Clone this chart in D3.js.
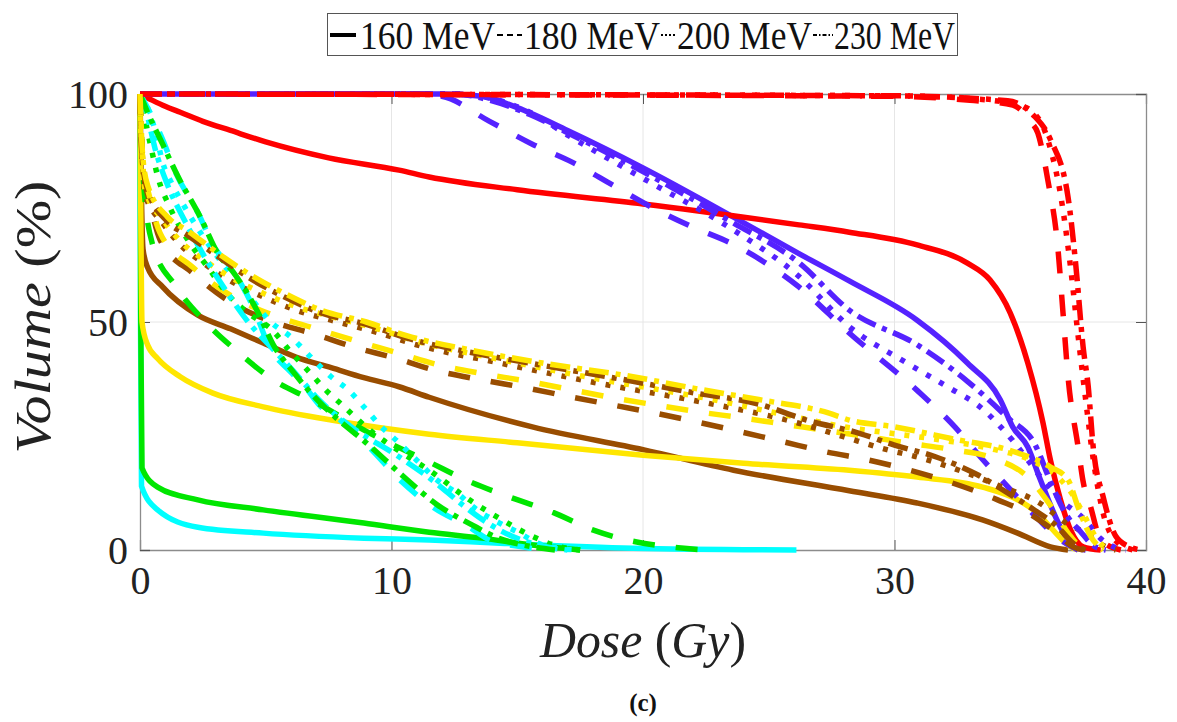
<!DOCTYPE html>
<html><head><meta charset="utf-8">
<script src="https://cdn.jsdelivr.net/npm/d3@7"></script>
<style>body{margin:0;background:#fff}svg{display:block}</style>
</head><body>
<svg id="c" width="1177" height="722"></svg>
<script>
// ---- data: [dose (Gy), volume (%)] ----
const energies = ["160 MeV","180 MeV","200 MeV","230 MeV"];
const xTicks = [0,10,20,30,40];
const yTicks = [0,50,100];

const red160 = [[0,100],[0.5,98.6],[1,97.3],[1.6,96],[2.5,94],[3.6,92],[5,89.5],[7.5,86],[10.3,83.3],[11.5,81.8],[15,79],[20,75.9],[26.2,71.3],[28.2,69.7],[30.9,66.9],[32.9,62.9],[33.8,59.2],[34.6,52],[35.3,41],[35.9,28],[36.2,19.7],[36.6,11],[37,4.4],[37.5,0.7],[38.2,0]];
const red180 = [[0,100],[30,99.5],[33,98.6],[34.7,97.6],[35.4,94],[35.7,91.4],[36.1,81],[36.5,66],[36.7,52],[36.9,38],[37.3,22.6],[37.5,15],[37.8,9.4],[38.2,2.2],[39,0]];
const red200 = [[0,100],[30,99.6],[33,99],[35,97.5],[35.8,94],[36.2,88],[36.6,78],[37,62],[37.3,47],[37.6,33],[37.9,20],[38.3,8],[38.8,2],[39.5,0]];
const red230 = [[0,100],[30,99.6],[34.5,98.5],[35.5,95.5],[36.2,90],[36.9,77.4],[37.2,63],[37.5,44.5],[37.7,36],[37.9,22.6],[38.3,11.6],[38.8,3],[39.3,0.8],[39.8,0]];

const blue160 = [[0,100],[12,100],[13.6,99.5],[15,97],[17,92],[20,83.8],[23.6,73],[26.2,65],[28.2,59],[30.9,50.4],[32.9,41],[34.2,33],[34.7,27],[35.3,22.6],[35.8,15.4],[36.6,5],[37.1,0.7],[37.6,0]];
const blue180 = [[0,100],[11,100],[12,99.5],[13.9,94],[15.6,89],[17.2,85],[18.8,80],[20.4,75],[21.9,71],[23.6,67],[26.2,57.7],[28.2,47.6],[30.9,35],[32.4,27],[33.4,20.5],[34.4,14.5],[35.5,8],[36.6,2.2],[37.3,0]];
const blue200 = [[0,100],[12.5,100],[14,99],[15.5,96],[17,91],[20,81.5],[23.5,70.5],[26.2,60],[28.2,49],[30.5,41],[32.2,35.5],[33.4,31.4],[34.7,24],[35.9,15.4],[36.6,11],[37.5,7],[38.2,2.5],[38.8,0.5],[39.2,0]];
const blue230 = [[0,100],[12.5,100],[14,98.5],[15.5,95.5],[17,91.5],[20,83],[23.5,72],[26.2,63],[28.2,52.6],[30.9,45],[32.9,37],[34.5,29],[35.6,23],[36.2,15],[36.8,8],[37.4,4],[37.9,1],[38.4,0]];

const brown160 = [[0,100],[0.05,80],[0.12,66],[0.3,62],[0.9,57.7],[2.3,51.5],[3.6,48.5],[4.9,45.4],[6.2,42.3],[7.6,40],[8.9,37.8],[10.3,35.8],[11.5,33.5],[15.6,27],[20,22],[23.6,17.5],[28.2,13],[30.9,10.3],[33.5,6.6],[34.9,3.7],[36.2,0.7],[36.9,0]];
const brown180 = [[0,100],[0.1,84],[0.4,76],[0.8,68],[2.1,60.7],[3.7,54],[5.3,50],[6.9,47.4],[8.5,44.5],[10.2,42],[11.8,39.3],[13.6,37.3],[15.4,35.5],[17.1,33.6],[18.8,31.8],[20.5,30],[22.2,28],[23.9,25.9],[25.6,23.7],[27.3,21.5],[29,19.7],[30.6,17.5],[32.3,14.7],[34.1,11],[35.5,7.5],[36.5,3.5],[37.1,0.7],[37.5,0]];
const brown200 = [[0,100],[0.2,78],[0.9,71.7],[1.7,66.4],[2.5,63],[3.6,59],[4.9,55.5],[6.2,52.6],[7.6,50.4],[9.5,47.6],[11,45],[14.3,41],[18.3,36.5],[22.3,32.5],[26.2,27.8],[28,24.8],[29.7,22],[30.9,20.4],[32.2,18.2],[34.2,14],[35.8,10.2],[36.8,6],[37.6,3.7],[38.3,1],[38.8,0]];
const brown230 = [[0,100],[0.1,85],[0.3,79],[1.1,72],[1.9,69],[3.2,64],[4.4,59.5],[5.7,55.6],[7.2,52],[9,49.5],[10.6,46.5],[13,43.5],[16,40.5],[19.6,37],[22,34.5],[24.6,32],[26.5,28.5],[28.6,25.6],[30,23],[31.6,20.5],[33.3,16.5],[34.5,12.5],[35.5,9],[36.5,5],[37.1,1.5],[37.6,0]];

const yellow160 = [[0,100],[0.03,75],[0.08,50],[0.3,45],[0.7,42],[1.6,38],[2.9,34.4],[4.9,31.4],[7.6,28.5],[11.5,25.4],[15,23.5],[20,20.8],[24,19],[28.2,17.5],[30.9,16],[33.5,13.8],[34.9,11],[35.7,8],[36.2,5],[37,0.7],[37.3,0]];
const yellow180 = [[0,100],[0.1,86],[0.4,77],[0.8,69.5],[2.1,62],[3.7,55.5],[5.3,51.5],[6.9,48.7],[8.5,46],[10.2,43.3],[11.8,40.7],[13.6,38.7],[15.4,37],[17.1,35.2],[18.8,33.4],[20.5,31.8],[22.2,30.3],[23.9,29],[25.6,27.6],[27.3,26.2],[29,24.8],[30.6,23.4],[32.3,22],[34,20],[35.3,16],[36.3,9],[37,3],[37.5,0.3],[37.8,0]];
const yellow200 = [[0,100],[0.2,79],[0.9,72.5],[1.7,67.2],[2.5,63.8],[3.6,59.8],[4.9,56.3],[6.2,53.4],[7.6,51.2],[9.5,48.4],[11,45.8],[14.3,41.8],[18.3,37.4],[22.3,33.5],[26.2,29],[28,27],[30,25.5],[32,24],[34,22],[35.5,19.5],[36.5,16],[37.1,12],[37.6,7],[38.1,2],[38.5,0]];
const yellow230 = [[0,100],[0.1,87],[0.3,80],[1.1,73],[1.9,70],[3.2,64.7],[4.4,60.3],[5.7,56.4],[7.2,52.6],[9,50],[10.6,47],[13,44],[16,41],[19.6,38],[22,35.5],[24.6,33],[27.4,30],[28.2,28.5],[30,27],[32.2,24.5],[34.9,21.3],[36.2,18.2],[36.9,15.4],[37.3,9.4],[37.8,3],[38.3,0]];

const green160 = [[0,100],[0.03,50],[0.08,18],[0.7,13.8],[2.3,11],[4.9,8.8],[8.9,5.9],[11.5,3.9],[13.6,2.6],[15.6,1.1],[17,0.3],[17.5,0]];
const green180 = [[0,100],[0.15,80],[0.5,67],[1.4,58],[2.6,50],[3.9,43.4],[5.3,37.3],[6.8,33],[9,26],[11.5,19.3],[13.1,15],[14.7,11.6],[16.4,8.3],[18,4.4],[19.7,1.8],[21.4,0.5],[22.5,0]];
const green200 = [[0,100],[0.45,88],[0.7,82],[1.2,75],[1.9,68],[2.7,62],[3.5,56],[4.3,52],[5.3,48],[5.9,44],[6.4,41],[6.9,38],[7.4,35],[8,32],[9.2,26],[10.5,21],[11.5,17.5],[13.1,11],[14.4,6.6],[15.6,3],[16.5,1],[17.5,0]];
const green230 = [[0,100],[0.3,96],[0.9,89],[1.5,82],[2.4,73],[3.1,65],[3.7,61],[4.7,52],[5.3,45],[6.1,39],[6.7,35],[7.4,31],[9.1,23],[10.5,16],[11.8,10],[13.2,5.5],[14.3,2.5],[15.5,0.8],[16.5,0]];

const cyan160 = [[0,100],[0.02,50],[0.06,14],[0.7,8.8],[2.3,5],[4.9,3.7],[8.9,2.6],[11.5,2.2],[14.3,1.5],[19.6,0.4],[26.1,0]];
const cyan180 = [[0,100],[0.3,97],[0.9,90],[1.4,83],[2.3,74],[3,66],[3.6,62],[4.6,52],[5.1,45],[6,39],[6.6,35.5],[7.2,31.4],[7.6,30],[9.1,22.6],[10.4,15],[11.7,9.2],[13.1,5],[13.9,2.2],[15.2,0.7],[16,0]];
const cyan200 = [[0,100],[0.3,97],[0.6,92],[0.9,85],[1.3,80],[1.8,75],[2.6,68],[3.4,62],[4.3,56],[5.2,50],[6,46.7],[6.9,41.7],[7.6,38],[8.3,35],[8.9,31.4],[9.6,27],[10.2,24],[11,19.7],[11.8,15.4],[12.6,12.5],[13.4,8.8],[14.3,5.9],[15.1,3.7],[15.8,1.5],[16.5,0.5],[17.5,0]];
const cyan230 = [[0,100],[0.3,95],[0.6,88],[1.1,80],[1.8,72],[2.6,64],[3.4,57],[4.3,50],[5.3,44],[6.3,38],[7.1,33],[8.4,27],[10.2,20.8],[11.7,15],[12.8,10],[13.8,6],[14.8,3],[15.9,1],[17,0]];

// structure colours and the series of each, in the order of energies
const structures = [
  {color:"#00ffff", series:[cyan160,cyan180,cyan200,cyan230]},
  {color:"#00e600", series:[green160,green180,green200,green230]},
  {color:"#5522ff", series:[blue160,blue180,blue200,blue230]},
  {color:"#ff0000", series:[red160,red180,red200,red230]},
  {color:"#994d00", series:[brown160,brown180,brown200,brown230]},
  {color:"#ffe600", series:[yellow160,yellow180,yellow200,yellow230]}
];
const dashes = [null,"22,21","5,10","20,7,5,7"];
const legendDashes = [null,"6,4","2,2","4,2,1.5,2"];

// ---- drawing ----
const svg = d3.select("#c");
svg.append("rect").attr("width",1177).attr("height",722).attr("fill","#fff");
const L=140,R=1146,T=94,B=550;
const x = d3.scaleLinear().domain([0,40]).range([L,R]);
const y = d3.scaleLinear().domain([0,100]).range([B,T]);

// grid
const g = svg.append("g");
g.selectAll(".gx").data(xTicks.slice(1,-1)).join("line")
  .attr("x1",d=>x(d)).attr("x2",d=>x(d)).attr("y1",T).attr("y2",B)
  .attr("stroke","#e6e6e6").attr("stroke-width",1);
g.selectAll(".gy").data(yTicks.slice(1,-1)).join("line")
  .attr("y1",d=>y(d)).attr("y2",d=>y(d)).attr("x1",L).attr("x2",R)
  .attr("stroke","#e6e6e6").attr("stroke-width",1);

// axes (MATLAB style: box, inner ticks)
const axColor="#8c8c8c";
const xAxB = svg.append("g").attr("transform",`translate(0,${B})`)
  .call(d3.axisBottom(x).tickValues(xTicks).tickSize(-10).tickPadding(14).tickFormat(d3.format("d")));
const xAxT = svg.append("g").attr("transform",`translate(0,${T})`)
  .call(d3.axisTop(x).tickValues(xTicks).tickSize(-10).tickFormat(""));
const yAxL = svg.append("g").attr("transform",`translate(${L},0)`)
  .call(d3.axisLeft(y).tickValues(yTicks).tickSize(-10).tickPadding(12).tickFormat(d3.format("d")));
const yAxR = svg.append("g").attr("transform",`translate(${R},0)`)
  .call(d3.axisRight(y).tickValues(yTicks).tickSize(-10).tickFormat(""));
[xAxB,xAxT,yAxL,yAxR].forEach(a=>{
  a.select(".domain").attr("stroke",axColor).attr("stroke-width",1.3);
  a.selectAll(".tick line").attr("stroke","#555").attr("stroke-width",1);
  a.selectAll("text").attr("font-family","'Liberation Serif',serif").attr("font-size",40).attr("fill","#222");
});
xAxB.selectAll(".tick text").attr("dy","0.75em");
yAxL.selectAll(".tick text").attr("dy","0.34em");

// curves
const line = d3.line().x(d=>x(d[0])).y(d=>y(d[1])).curve(d3.curveMonotoneX);
const cg = svg.append("g").attr("fill","none").attr("stroke-width",5.5);
energies.forEach((e,ei)=>{
  structures.forEach(s=>{
    cg.append("path").attr("d",line(s.series[ei]))
      .attr("stroke",s.color)
      .attr("stroke-dasharray",dashes[ei])
      .attr("stroke-linejoin","round");
  });
});

// axis labels
const lab = svg.append("g").attr("font-family","'Liberation Serif',serif").attr("fill","#222");
const xl = lab.append("text").attr("x",643).attr("y",657).attr("text-anchor","middle")
  .attr("font-size",50).attr("textLength",206).attr("lengthAdjust","spacingAndGlyphs");
xl.append("tspan").attr("font-style","italic").text("Dose ");
xl.append("tspan").text("(");
xl.append("tspan").attr("font-style","italic").text("Gy");
xl.append("tspan").text(")");
const yl = lab.append("text").attr("transform","translate(50,317) rotate(-90)").attr("text-anchor","middle")
  .attr("font-size",50).attr("textLength",273).attr("lengthAdjust","spacingAndGlyphs");
yl.append("tspan").attr("font-style","italic").text("Volume ");
yl.append("tspan").text("(%)");

svg.append("text").attr("x",643).attr("y",711).attr("text-anchor","middle")
  .attr("font-family","'Liberation Serif',serif").attr("font-weight","bold").attr("font-size",25)
  .attr("fill","#111").text("(c)");

// legend
const lg = svg.append("g");
lg.append("rect").attr("x",327.5).attr("y",13.5).attr("width",630).attr("height",42)
  .attr("fill","#fff").attr("stroke","#555").attr("stroke-width",1);
const legItems = [
  {x1:330,x2:356,tx:360,tw:135},
  {x1:497,x2:522,tx:524,tw:136},
  {x1:661,x2:676,tx:677,tw:135},
  {x1:813,x2:833,tx:834,tw:121}
];
energies.forEach((e,i)=>{
  const it = legItems[i];
  lg.append("line").attr("x1",it.x1).attr("x2",it.x2).attr("y1",35).attr("y2",35)
    .attr("stroke","#000").attr("stroke-width",i===0?4:2).attr("stroke-dasharray",legendDashes[i]);
  lg.append("text").attr("x",it.tx).attr("y",49).attr("font-family","'Liberation Serif',serif")
    .attr("font-size",39).attr("textLength",it.tw).attr("lengthAdjust","spacingAndGlyphs")
    .attr("fill","#111").text(e);
});
</script>
</body></html>
